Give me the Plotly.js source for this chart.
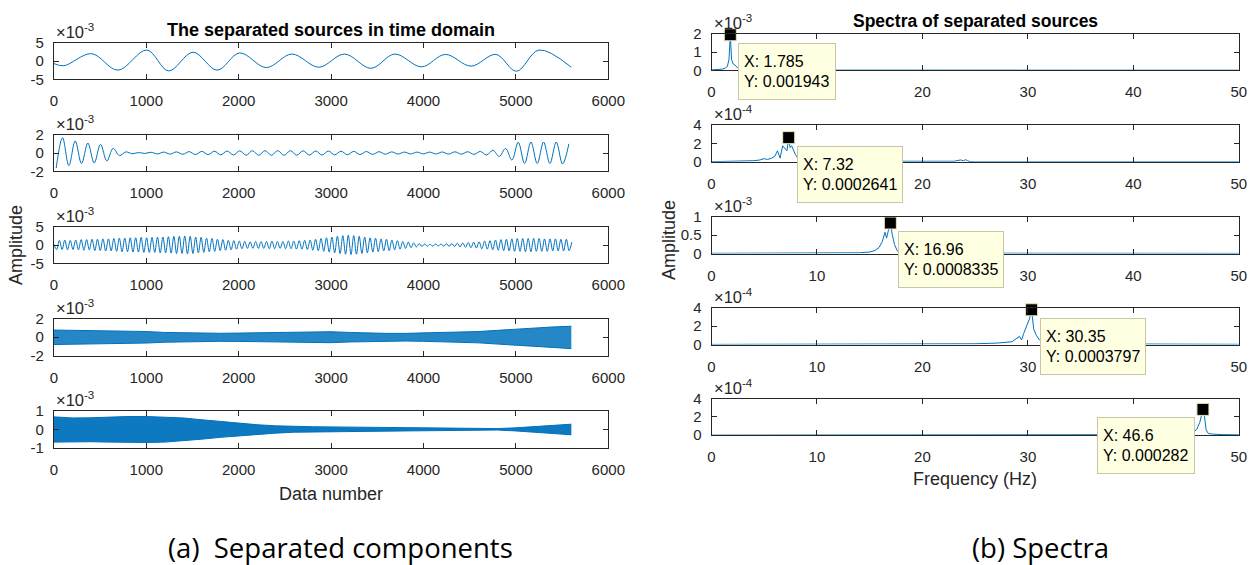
<!DOCTYPE html>
<html><head><meta charset="utf-8">
<script src="https://cdn.plot.ly/plotly-3.0.1.min.js"></script>
<style>html,body{margin:0;padding:0;background:#fff}#chart{width:1249px;height:565px}</style>
</head><body><div id="chart"></div>
<script>
// ---------- DATA (time-domain sources, values in units of 1e-3) ----------
const s1X = [0,107,407,693,1006,1241,1506,1767,2011,2298,2576,2867,3145,3432,3689,3979,4236,4514,4784,5006,5250,5600];
const s1Y = [-0.7,-1.3,2.0,-2.5,3.0,-2.7,2.4,-2.5,2.2,-1.8,1.9,-1.7,1.9,-2.0,1.9,-1.6,1.8,-1.4,1.8,-2.8,3.0,-1.7];

// source 2: successive extremes (start sample 25, half period 68.5 samples)
const s2Start = 25, s2Step = 68.5;
const s2Y = [-1.64,1.67,-1.38,1.31,-1.16,1.09,-1.09,0.95,-0.87,0.51,
  -0.29,0.12,-0.08,0.05,-0.05,0.08,-0.1,0.1,-0.12,0.12,
  -0.14,0.15,-0.17,0.18,-0.18,0.2,-0.2,0.22,-0.22,0.24,
  -0.24,0.25,-0.25,0.26,-0.25,0.26,-0.25,0.25,-0.24,0.24,
  -0.23,0.22,-0.22,0.21,-0.2,0.2,-0.19,0.18,-0.17,0.16,
  -0.15,0.14,-0.13,0.12,-0.11,0.1,-0.1,0.1,-0.1,0.1,
  -0.1,0.11,-0.12,0.13,-0.13,0.14,-0.15,0.17,-0.22,0.3,
  -0.38,0.5,-0.78,1.18,-1.15,1.2,-1.15,1.2,-1.15,1.2,
  -1.2,1.0];

// source 3: successive extremes (start sample 0, half period 29.5 samples)
const s3Start = 0, s3Step = 29.5;
const s3Y = [0.2,-1.2,1.3,-1.2,1.4,-1.3,1.3,
  -1.2,1.4,-1.3,1.5,-1.4,1.5,-1.3,
  1.6,-1.5,1.6,-1.5,1.7,-1.6,1.7,
  -1.6,1.8,-1.7,1.9,-1.8,1.9,-1.8,
  2.0,-1.9,2.0,-1.9,2.1,-2.0,2.0,
  -2.0,2.1,-2.0,2.2,-2.1,2.2,-2.1,
  2.3,-2.2,2.4,-2.3,2.4,-2.3,2.5,
  -2.4,2.4,-2.3,2.2,-2.1,2.1,-2.0,
  1.9,-1.8,1.8,-1.7,1.6,-1.5,1.5,
  -1.4,1.3,-1.3,1.2,-1.1,1.1,-1.0,
  1.0,-0.9,0.9,-0.9,1.0,-0.9,1.0,
  -0.9,1.0,-1.0,1.1,-1.0,1.0,-0.9,
  1.0,-1.0,1.1,-1.0,1.1,-1.1,1.2,
  -1.1,1.3,-1.2,1.4,-1.4,1.6,-1.5,
  1.8,-1.7,2.0,-1.9,2.2,-2.1,2.4,
  -2.3,2.6,-2.5,2.7,-2.6,2.6,-2.5,
  2.4,-2.3,2.2,-2.1,2.0,-1.9,1.9,
  -1.8,1.7,-1.6,1.6,-1.5,1.4,-1.3,
  1.2,-1.1,1.0,-0.9,0.8,-0.7,0.6,
  -0.5,0.4,-0.35,0.3,-0.3,0.25,-0.3,
  0.3,-0.25,0.3,-0.3,0.35,-0.35,0.4,
  -0.4,0.5,-0.5,0.6,-0.6,0.7,-0.7,
  0.8,-0.8,0.9,-1.0,1.1,-1.1,1.2,
  -1.3,1.4,-1.4,1.5,-1.5,1.6,-1.6,
  1.7,-1.7,1.8,-1.7,1.8,-1.8,1.8,
  -1.8,1.8,-1.7,1.8,-1.7,1.7,-1.7,
  1.7,-1.6,1.7,-1.6,1.6,-1.6,1.6,-1.5,
  0.8];

// sources 4 and 5: dense oscillation, envelope read every 200 samples
const envStep = 200;
const s4Up = [0.78,0.75,0.72,0.72,0.72,0.62,0.52,0.48,0.45,0.43,0.45,0.48,0.52,0.6,0.62,0.6,0.52,0.45,0.42,0.42,0.45,0.5,0.55,0.62,0.75,0.9,1.02,1.12,1.2];
const s4Lo = [-0.8,-0.78,-0.75,-0.75,-0.74,-0.64,-0.55,-0.5,-0.46,-0.45,-0.46,-0.5,-0.55,-0.6,-0.62,-0.6,-0.52,-0.46,-0.43,-0.42,-0.45,-0.5,-0.55,-0.62,-0.75,-0.9,-1.02,-1.12,-1.25];
const s5Up = [0.68,0.62,0.63,0.67,0.7,0.7,0.68,0.62,0.52,0.42,0.33,0.25,0.19,0.15,0.14,0.13,0.13,0.11,0.1,0.09,0.08,0.07,0.06,0.05,0.04,0.08,0.15,0.22,0.28];
const s5Lo = [-0.7,-0.68,-0.68,-0.7,-0.72,-0.72,-0.7,-0.64,-0.54,-0.44,-0.35,-0.27,-0.21,-0.16,-0.14,-0.13,-0.12,-0.11,-0.1,-0.09,-0.08,-0.07,-0.06,-0.05,-0.04,-0.09,-0.16,-0.24,-0.3];

// ---------- DATA (spectra, true amplitude) ----------
const r1F = [0,0.5,1.0,1.3,1.5,1.66,1.785,1.9,2.05,2.2,2.5,3.0,4,50];
const r1A = [0.00002,0.00003,0.00006,0.00012,0.0002,0.0006,0.001943,0.0006,0.00035,0.0003,0.00012,0.00003,0.00001,0.000005];
const r2F = [0,2,3,4,4.6,5.0,5.3,5.7,6.0,6.26,6.5,6.75,7.0,7.15,7.32,7.45,7.6,7.95,8.3,9,12,18,23,23.6,23.9,24.1,24.3,24.6,25,50];
const r2A = [0.000001,0.000003,0.000006,0.000012,0.00002,0.000035,0.000025,0.00004,0.00006,0.00012,0.00004,0.000175,0.00014,0.00012,0.0002641,0.000155,0.000175,0.00008,0.00002,0.00001,0.000006,0.000005,0.000006,0.00002,0.000012,0.000023,0.00001,0.000001,0,0];
const r3F = [0,10,14,15,15.5,15.9,16.2,16.45,16.6,16.75,16.96,17.15,17.35,17.6,18,20,50];
const r3A = [0.000005,0.000008,0.00002,0.00004,0.00008,0.00017,0.00033,0.00058,0.00042,0.0006,0.0008335,0.0005,0.00025,0.00008,0.00002,0.00001,0.000003];
const r4F = [0,10,20,25,27,28.5,29.2,29.4,29.6,29.9,30.15,30.35,30.55,30.8,31.1,31.6,33,50];
const r4A = [0.000001,0.000002,0.000004,0.000008,0.000015,0.00003,0.00009,0.00005,0.00012,0.00022,0.00028,0.0003797,0.00017,0.0001,0.00005,0.00002,0.000008,0.000002];
const r5F = [0,20,40,44,45.5,46.0,46.3,46.45,46.6,46.75,46.9,47.1,47.5,48.5,50];
const r5A = [0.000001,0.000001,0.000002,0.000006,0.00002,0.00006,0.00014,0.0002,0.000282,0.0002,0.00006,0.00002,0.000012,0.000006,0.000004];

const tipX = [1.785,7.32,16.96,30.35,46.6];
const tipY = [0.001943,0.0002641,0.0008335,0.0003797,0.000282];

// tick labels
const leftXTicks = [0,1000,2000,3000,4000,5000,6000];
const rightXTicks = [0,10,20,30,40,50];
const leftYTicks = [[-5,0,5],[-2,0,2],[-5,0,5],[-2,0,2],[-1,0,1]];
const rightYTicks = [[0,1,2],[0,2,4],[0,0.5,1],[0,2,4],[0,2,4]];
const rightYScale = [1e-3,1e-4,1e-3,1e-4,1e-4];
const leftExp = ['-3','-3','-3','-3','-3'];
const rightExp = ['-3','-4','-3','-4','-4'];

// ---------- LAYOUT ----------
const W = 1249, H = 565;
const BLUE = '#0072BD', INK = '#262626';
const FONT = 'Liberation Sans, Arial, Helvetica, sans-serif';
const px = v => v / W, py = v => 1 - v / H;
const boxH = 36.6;
const leftTops = [42.7,134.7,226.8,318.9,411.0];
const rightTops = [33.7,125.2,216.9,307.9,398.6];
const leftX = [53.9,608.3], rightX = [711.5,1238.8];

const layout = {
  width: W, height: H, margin: {l:0,r:0,t:0,b:0},
  paper_bgcolor: '#fff', plot_bgcolor: '#fff', showlegend: false,
  font: {family: FONT, color: INK, size: 15},
  annotations: []
};
const sfx = n => n === 1 ? '' : String(n);

function axisBase(extra) {
  return Object.assign({
    showline: true, linecolor: INK, linewidth: 1, mirror: 'ticks',
    ticks: 'inside', ticklen: 5, tickwidth: 1, tickcolor: INK,
    showgrid: false, zeroline: false, fixedrange: true,
    tickfont: {family: FONT, size: 15, color: INK}
  }, extra);
}

for (let i = 0; i < 10; i++) {
  const n = i + 1, left = i < 5, k = left ? i : i - 5;
  const top = left ? leftTops[k] : rightTops[k];
  const xd = left ? leftX : rightX;
  layout['xaxis' + sfx(n)] = axisBase({
    domain: [px(xd[0]), px(xd[1])], anchor: 'y' + sfx(n),
    range: left ? [0, 6000] : [0, 50],
    tickvals: left ? leftXTicks : rightXTicks,
    ticktext: (left ? leftXTicks : rightXTicks).map(String),
    ticklabelstandoff: 8
  });
  let yr, yv, yt;
  if (left) {
    const t = leftYTicks[k];
    yr = [t[0], t[2]]; yv = t; yt = t.map(String);
  } else {
    const t = rightYTicks[k], s = rightYScale[k];
    yr = [0, t[2] * s]; yv = t.map(v => v * s); yt = t.map(String);
  }
  layout['yaxis' + sfx(n)] = axisBase({
    domain: [py(top + boxH), py(top)], anchor: 'x' + sfx(n),
    range: yr, tickvals: yv, ticktext: yt, ticklabelstandoff: 6
  });
  layout.annotations.push({
    xref: 'paper', yref: 'paper', x: px(xd[0]), y: py(top), xanchor: 'left', yanchor: 'bottom',
    yshift: 0, xshift: 0, showarrow: false,
    text: '×10<sup>' + (left ? leftExp[k] : rightExp[k]) + '</sup>',
    font: {family: FONT, size: 16.5, color: INK}
  });
}

const traces = [];
const ax = n => ({xaxis: 'x' + sfx(n), yaxis: 'y' + sfx(n)});
const ln = {color: BLUE, width: 1};

traces.push(Object.assign({type:'scatter', mode:'lines', x: s1X, y: s1Y, line: Object.assign({shape:'spline'}, ln)}, ax(1)));
traces.push(Object.assign({type:'scatter', mode:'lines', x0: s2Start, dx: s2Step, y: s2Y, line: Object.assign({shape:'spline'}, ln)}, ax(2)));
traces.push(Object.assign({type:'scatter', mode:'lines', x0: s3Start, dx: s3Step, y: s3Y, line: Object.assign({shape:'spline'}, ln)}, ax(3)));
traces.push(Object.assign({type:'scatter', mode:'lines', x0: 0, dx: envStep, y: s4Lo, line: {color: BLUE, width: 1}}, ax(4)));
traces.push(Object.assign({type:'scatter', mode:'lines', x0: 0, dx: envStep, y: s4Up, line: {color: BLUE, width: 1}, fill: 'tonexty', fillcolor: 'rgba(0,114,189,0.85)'}, ax(4)));
traces.push(Object.assign({type:'scatter', mode:'lines', x0: 0, dx: envStep, y: s5Lo, line: {color: BLUE, width: 1}}, ax(5)));
traces.push(Object.assign({type:'scatter', mode:'lines', x0: 0, dx: envStep, y: s5Up, line: {color: BLUE, width: 1}, fill: 'tonexty', fillcolor: 'rgba(0,114,189,0.95)'}, ax(5)));

const spec = [[r1F,r1A],[r2F,r2A],[r3F,r3A],[r4F,r4A],[r5F,r5A]];
spec.forEach((s, k) => {
  traces.push(Object.assign({type:'scatter', mode:'lines', x: s[0], y: s[1], line: ln}, ax(k + 6)));
});
tipX.forEach((tx, k) => {
  traces.push(Object.assign({type:'scatter', mode:'markers', x: [tx], y: [tipY[k]],
    marker: {symbol:'square', size: 12, color: '#000', line: {color: '#E8E2B8', width: 1}}, cliponaxis: false}, ax(k + 6)));
  const leftSide = k === 4;
  layout.annotations.push({
    xref: 'x' + sfx(k + 6), yref: 'y' + sfx(k + 6), x: tx, y: tipY[k],
    xanchor: leftSide ? 'right' : 'left', yanchor: 'top',
    xshift: leftSide ? -8 : 8, yshift: -8, showarrow: false, align: 'left',
    text: 'X: ' + tx + '<br>Y: ' + tipY[k], height: 45,
    bgcolor: '#FFFFE1', bordercolor: '#C9C5A8', borderwidth: 1, borderpad: 5,
    font: {family: FONT, size: 16, color: '#000'}
  });
});

// titles and labels
const A = layout.annotations;
A.push({xref:'paper', yref:'paper', x: px(331), y: py(29.6), xanchor:'center', yanchor:'middle', showarrow:false,
  text:'<b>The separated sources in time domain</b>', font:{family: FONT, size: 18, color:'#000'}});
A.push({xref:'paper', yref:'paper', x: px(975), y: py(21), xanchor:'center', yanchor:'middle', showarrow:false,
  text:'<b>Spectra of separated sources</b>', font:{family: FONT, size: 17.5, color:'#000'}});
A.push({xref:'paper', yref:'paper', x: px(331), y: py(494), xanchor:'center', yanchor:'middle', showarrow:false,
  text:'Data number', font:{family: FONT, size: 18, color: INK}});
A.push({xref:'paper', yref:'paper', x: px(975), y: py(479), xanchor:'center', yanchor:'middle', showarrow:false,
  text:'Frequency (Hz)', font:{family: FONT, size: 18, color: INK}});
A.push({xref:'paper', yref:'paper', x: px(16), y: py(245), xanchor:'center', yanchor:'middle', showarrow:false, textangle:-90,
  text:'Amplitude', font:{family: FONT, size: 18, color: INK}});
A.push({xref:'paper', yref:'paper', x: px(669), y: py(240), xanchor:'center', yanchor:'middle', showarrow:false, textangle:-90,
  text:'Amplitude', font:{family: FONT, size: 18, color: INK}});
A.push({xref:'paper', yref:'paper', x: px(340), y: py(547), xanchor:'center', yanchor:'middle', showarrow:false,
  text:'(a)  Separated components', font:{family: 'Open Sans, Noto Sans, sans-serif', size: 27.5, color:'#000'}});
A.push({xref:'paper', yref:'paper', x: px(1040), y: py(547), xanchor:'center', yanchor:'middle', showarrow:false,
  text:'(b) Spectra', font:{family: 'Open Sans, Noto Sans, sans-serif', size: 27.5, color:'#000'}});

Plotly.newPlot('chart', traces, layout, {staticPlot: true, displayModeBar: false});
</script>
</body></html>
